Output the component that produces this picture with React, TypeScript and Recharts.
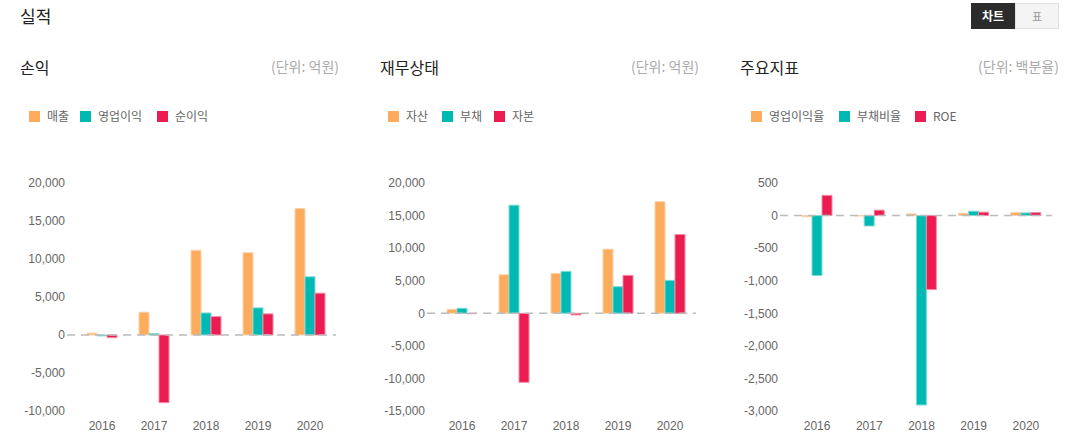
import React from 'react';
import { BarChart, Bar, XAxis, YAxis, ReferenceLine } from 'recharts';

const years = ['2016', '2017', '2018', '2019', '2020'];

// 손익 (억원)
const sales = [250, 3000, 11150, 10840, 16650];
const opProfit = [-120, 180, 2900, 3570, 7660];
const netProfit = [-350, -8900, 2420, 2780, 5500];

// 재무상태 (억원)
const assets = [610, 5920, 6120, 9850, 17140];
const liabilities = [770, 16600, 6430, 4080, 5050];
const equity = [-60, -10600, -250, 5820, 12090];

// 주요지표 (%)
const opMargin = [-18, -6, 26, 36, 46];
const debtRatio = [-920, -160, -2908, 67, 41];
const roe = [310, 83, -1136, 52, 46];

const ticks1 = [-10000, -5000, 0, 5000, 10000, 15000, 20000];
const ticks2 = [-15000, -10000, -5000, 0, 5000, 10000, 15000, 20000];
const ticks3 = [-3000, -2500, -2000, -1500, -1000, -500, 0, 500];

const COLORS = ['#FDAC5E', '#00B9B3', '#EB1D50'];
const STROKES = ['#FCD3AC', '#7FDAD6', '#F38AA5'];

const FONT = '"Noto Sans CJK KR", "Noto Sans", sans-serif';
const NUMFONT = '"Liberation Sans", Arial, sans-serif';

const build = (a: number[], b: number[], c: number[]) =>
  years.map((y, i) => ({ year: y, a: a[i], b: b[i], c: c[i] }));

const fmt = (v: number) => v.toLocaleString('en-US');

type PanelProps = {
  left: number;
  title: string;
  unit: string;
  names: string[];
  legendX: number[];
  data: { year: string; a: number; b: number; c: number }[];
  domain: [number, number];
  ticks: number[];
  yWidth: number;
  chartWidth: number;
  padLeft: number;
};

function Panel(p: PanelProps) {
  return (
    <>
      <div style={{ position: 'absolute', left: p.left, top: 56, fontFamily: FONT, fontSize: 16, color: '#222', lineHeight: '22px' }}>{p.title}</div>
      <div style={{ position: 'absolute', left: p.left + 140, width: 179, textAlign: 'right', top: 55, fontFamily: FONT, fontSize: 14, color: '#aaa', lineHeight: '22px' }}>{p.unit}</div>
      {p.names.map((n, i) => (
        <React.Fragment key={n}>
          <div style={{ position: 'absolute', left: p.left + p.legendX[i], top: 111, width: 11, height: 11, background: COLORS[i] }} />
          <div style={{ position: 'absolute', left: p.left + p.legendX[i] + 18, top: 107, fontFamily: FONT, fontSize: 12, color: '#666', lineHeight: '18px' }}>{n}</div>
        </React.Fragment>
      ))}
      <div style={{ position: 'absolute', left: p.left - 20, top: 170 }}>
        <BarChart width={p.chartWidth} height={272} data={p.data} margin={{ top: 13, right: 4, bottom: 0, left: 0 }} barGap={0} barSize={10}>
          <XAxis dataKey="year" axisLine={false} tickLine={false} tickSize={0} tickMargin={10} padding={{ left: p.padLeft, right: 0 }} height={31}
            tick={{ fill: '#666', fontSize: 12, fontFamily: NUMFONT }} />
          <YAxis domain={p.domain} ticks={p.ticks} interval={0} axisLine={false} tickLine={false} tickSize={0} tickMargin={2} width={p.yWidth}
            tickFormatter={fmt} tick={{ fill: '#666', fontSize: 12, fontFamily: NUMFONT }} allowDataOverflow />
          <ReferenceLine y={0} stroke="#bbb" strokeDasharray="8 6" strokeWidth={1.5} />
          <Bar dataKey="a" fill={COLORS[0]} stroke={STROKES[0]} strokeWidth={1} isAnimationActive={false} />
          <Bar dataKey="b" fill={COLORS[1]} stroke={STROKES[1]} strokeWidth={1} isAnimationActive={false} />
          <Bar dataKey="c" fill={COLORS[2]} stroke={STROKES[2]} strokeWidth={1} isAnimationActive={false} />
        </BarChart>
      </div>
    </>
  );
}

export default function App() {
  return (
    <div style={{ position: 'absolute', left: 0, top: 0, width: 1077, height: 444, background: '#fff', overflow: 'hidden' }}>
      <div style={{ position: 'absolute', left: 20, top: 4, fontFamily: FONT, fontSize: 17, color: '#222', lineHeight: '24px' }}>실적</div>
      <div style={{ position: 'absolute', left: 971, top: 3, width: 44, height: 26, background: '#2b2b2b', color: '#fff', fontFamily: FONT, fontSize: 12, fontWeight: 700, textAlign: 'center', lineHeight: '26px' }}>차트</div>
      <div style={{ position: 'absolute', left: 1015, top: 3, width: 42, height: 24, background: '#f4f4f4', border: '1px solid #e0e0e0', color: '#999', fontFamily: FONT, fontSize: 11, textAlign: 'center', lineHeight: '24px' }}>표</div>

      <Panel left={20} title="손익" unit="(단위: 억원)" names={['매출', '영업이익', '순이익']} legendX={[9, 60, 137]}
        data={build(sales, opProfit, netProfit)} domain={[-10000, 20000]} ticks={ticks1} yWidth={67} chartWidth={340} padLeft={9} />
      <Panel left={380} title="재무상태" unit="(단위: 억원)" names={['자산', '부채', '자본']} legendX={[8, 62, 114]}
        data={build(assets, liabilities, equity)} domain={[-15000, 20000]} ticks={ticks2} yWidth={67} chartWidth={340} padLeft={9} />
      <Panel left={740} title="주요지표" unit="(단위: 백분율)" names={['영업이익율', '부채비율', 'ROE']} legendX={[11, 99, 175]}
        data={build(opMargin, debtRatio, roe)} domain={[-3000, 500]} ticks={ticks3} yWidth={60} chartWidth={336} padLeft={11} />
    </div>
  );
}
